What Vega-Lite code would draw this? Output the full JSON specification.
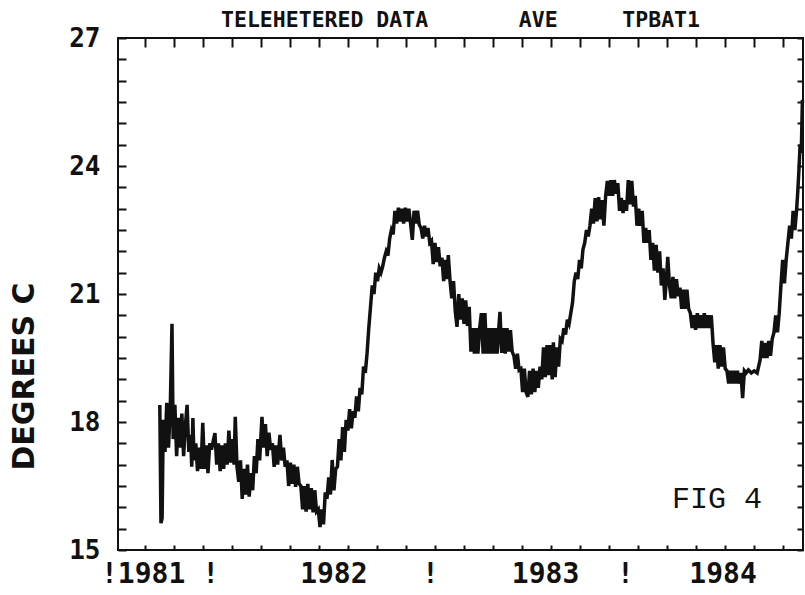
{
"$schema": "https://vega.github.io/schema/vega-lite/v6.json",
"width": 685, "height": 512,
"autosize": {"type": "none"},
"padding": {"left": 118, "top": 38, "right": 2, "bottom": 45},
"background": "white",
"config": {"view": {"stroke": "#111", "strokeWidth": 2}, "axis": {"grid": false, "domain": false, "tickColor": "#111", "tickWidth": 2, "labelColor": "#111", "titleColor": "#111"}},
"title": {"text": "TELEHETERED DATA\u00a0\u00a0\u00a0\u00a0\u00a0\u00a0\u00a0AVE\u00a0\u00a0\u00a0\u00a0\u00a0TPBAT1", "orient": "top", "frame": "group", "font": "DejaVu Sans Mono", "fontSize": 21.5, "fontWeight": "bold", "color": "#111", "anchor": "middle", "baseline": "alphabetic", "offset": -23},
"resolve": {"axis": {"x": "independent", "y": "independent"}},
"layer": [
{"data": {"values": [
{"day":76,"temp":18.40},{"day":78,"temp":15.63},{"day":80,"temp":15.75},{"day":82,"temp":18.05},{"day":85,"temp":17.30},{"day":88,"temp":18.45},{"day":91,"temp":17.40},{"day":94,"temp":18.30},{"day":97,"temp":20.30},{"day":99,"temp":17.60},{"day":102,"temp":18.40},{"day":105,"temp":17.20},{"day":108,"temp":18.10},{"day":111,"temp":17.40},{"day":114,"temp":18.20},{"day":117,"temp":17.20},{"day":120,"temp":17.90},{"day":123,"temp":18.40},{"day":126,"temp":17.30},{"day":129,"temp":17.70},{"day":131,"temp":16.95},{"day":133,"temp":18.09},{"day":135,"temp":17.10},{"day":138,"temp":17.50},{"day":141,"temp":16.85},{"day":144,"temp":17.40},{"day":147,"temp":16.90},{"day":150,"temp":17.98},{"day":153,"temp":16.90},{"day":156,"temp":17.45},{"day":159,"temp":16.80},{"day":162,"temp":17.50},{"day":165,"temp":17.35},{"day":168,"temp":17.55},{"day":171,"temp":17.74},{"day":174,"temp":17.00},{"day":177,"temp":17.50},{"day":180,"temp":16.85},{"day":183,"temp":17.45},{"day":186,"temp":16.90},{"day":189,"temp":17.50},{"day":192,"temp":17.00},{"day":195,"temp":17.80},{"day":198,"temp":17.05},{"day":201,"temp":17.60},{"day":204,"temp":17.00},{"day":206,"temp":18.12},{"day":209,"temp":16.95},{"day":212,"temp":16.60},{"day":215,"temp":17.10},{"day":218,"temp":16.20},{"day":221,"temp":16.90},{"day":224,"temp":16.30},{"day":227,"temp":17.00},{"day":230,"temp":16.25},{"day":233,"temp":16.80},{"day":236,"temp":16.40},{"day":239,"temp":17.20},{"day":242,"temp":16.80},{"day":245,"temp":17.60},{"day":248,"temp":17.10},{"day":252,"temp":18.12},{"day":255,"temp":17.40},{"day":258,"temp":17.95},{"day":261,"temp":17.20},{"day":264,"temp":17.75},{"day":267,"temp":17.35},{"day":270,"temp":17.50},{"day":273,"temp":16.95},{"day":276,"temp":17.45},{"day":279,"temp":17.00},{"day":283,"temp":17.70},{"day":286,"temp":17.10},{"day":289,"temp":17.40},{"day":292,"temp":16.95},{"day":295,"temp":17.10},{"day":298,"temp":16.50},{"day":301,"temp":17.05},{"day":304,"temp":16.55},{"day":307,"temp":17.00},{"day":310,"temp":16.48},{"day":313,"temp":16.95},{"day":316,"temp":16.55},{"day":319,"temp":16.50},{"day":322,"temp":15.95},{"day":325,"temp":16.50},{"day":328,"temp":15.90},{"day":331,"temp":16.55},{"day":334,"temp":15.95},{"day":337,"temp":16.45},{"day":340,"temp":15.88},{"day":343,"temp":16.40},{"day":346,"temp":15.90},{"day":349,"temp":15.95},{"day":352,"temp":15.54},{"day":355,"temp":15.95},{"day":358,"temp":15.60},{"day":361,"temp":16.35},{"day":364,"temp":16.20},{"day":367,"temp":16.70},{"day":370,"temp":16.30},{"day":373,"temp":17.11},{"day":376,"temp":16.40},{"day":379,"temp":16.90},{"day":382,"temp":16.95},{"day":385,"temp":17.60},{"day":388,"temp":17.10},{"day":391,"temp":17.88},{"day":394,"temp":17.30},{"day":397,"temp":18.05},{"day":400,"temp":17.80},{"day":403,"temp":18.30},{"day":406,"temp":17.85},{"day":409,"temp":18.25},{"day":412,"temp":18.10},{"day":415,"temp":18.60},{"day":418,"temp":18.25},{"day":421,"temp":18.80},{"day":424,"temp":18.65},{"day":427,"temp":19.30},{"day":430,"temp":19.15},{"day":433,"temp":19.60},{"day":436,"temp":20.20},{"day":439,"temp":20.70},{"day":442,"temp":21.20},{"day":445,"temp":21.00},{"day":448,"temp":21.50},{"day":451,"temp":21.30},{"day":454,"temp":21.60},{"day":457,"temp":21.50},{"day":460,"temp":21.65},{"day":463,"temp":21.85},{"day":466,"temp":22.00},{"day":469,"temp":21.90},{"day":472,"temp":22.30},{"day":475,"temp":22.50},{"day":478,"temp":22.40},{"day":481,"temp":22.95},{"day":484,"temp":22.65},{"day":487,"temp":23.02},{"day":490,"temp":22.70},{"day":493,"temp":23.00},{"day":496,"temp":22.65},{"day":499,"temp":23.02},{"day":502,"temp":22.70},{"day":505,"temp":23.00},{"day":508,"temp":22.65},{"day":511,"temp":22.27},{"day":514,"temp":22.95},{"day":517,"temp":22.65},{"day":520,"temp":22.95},{"day":523,"temp":22.62},{"day":526,"temp":22.55},{"day":529,"temp":22.30},{"day":532,"temp":22.60},{"day":535,"temp":22.35},{"day":538,"temp":22.55},{"day":541,"temp":22.20},{"day":544,"temp":22.25},{"day":547,"temp":21.70},{"day":550,"temp":22.20},{"day":553,"temp":21.75},{"day":556,"temp":22.10},{"day":559,"temp":21.65},{"day":562,"temp":21.85},{"day":565,"temp":21.30},{"day":568,"temp":21.80},{"day":571,"temp":21.35},{"day":573,"temp":21.91},{"day":576,"temp":21.30},{"day":579,"temp":20.90},{"day":582,"temp":21.30},{"day":585,"temp":20.60},{"day":588,"temp":20.23},{"day":591,"temp":21.00},{"day":594,"temp":20.40},{"day":597,"temp":20.90},{"day":600,"temp":20.30},{"day":603,"temp":20.85},{"day":606,"temp":20.25},{"day":609,"temp":20.70},{"day":612,"temp":19.65},{"day":615,"temp":20.20},{"day":618,"temp":19.60},{"day":621,"temp":20.20},{"day":624,"temp":19.60},{"day":627,"temp":20.20},{"day":630,"temp":20.55},{"day":633,"temp":19.60},{"day":636,"temp":20.55},{"day":639,"temp":19.60},{"day":642,"temp":20.20},{"day":645,"temp":19.60},{"day":648,"temp":20.20},{"day":651,"temp":19.60},{"day":654,"temp":20.20},{"day":657,"temp":19.60},{"day":660,"temp":20.20},{"day":662,"temp":20.58},{"day":665,"temp":19.62},{"day":668,"temp":20.20},{"day":671,"temp":19.60},{"day":674,"temp":20.20},{"day":677,"temp":19.65},{"day":680,"temp":20.15},{"day":683,"temp":19.65},{"day":686,"temp":19.55},{"day":689,"temp":19.25},{"day":692,"temp":19.60},{"day":695,"temp":19.22},{"day":698,"temp":19.25},{"day":701,"temp":18.70},{"day":704,"temp":19.25},{"day":707,"temp":18.70},{"day":710,"temp":18.59},{"day":713,"temp":19.20},{"day":716,"temp":18.65},{"day":719,"temp":19.25},{"day":722,"temp":18.70},{"day":725,"temp":19.20},{"day":728,"temp":18.80},{"day":731,"temp":19.30},{"day":734,"temp":19.00},{"day":737,"temp":19.75},{"day":740,"temp":19.05},{"day":743,"temp":19.80},{"day":746,"temp":19.10},{"day":749,"temp":19.80},{"day":752,"temp":19.00},{"day":754,"temp":19.87},{"day":757,"temp":19.05},{"day":760,"temp":19.75},{"day":763,"temp":19.30},{"day":766,"temp":19.95},{"day":769,"temp":19.90},{"day":772,"temp":20.20},{"day":775,"temp":20.05},{"day":778,"temp":20.40},{"day":781,"temp":20.30},{"day":784,"temp":20.55},{"day":787,"temp":20.80},{"day":790,"temp":21.30},{"day":793,"temp":21.50},{"day":796,"temp":21.35},{"day":799,"temp":21.80},{"day":802,"temp":21.60},{"day":805,"temp":22.05},{"day":808,"temp":22.20},{"day":811,"temp":22.50},{"day":814,"temp":22.35},{"day":817,"temp":22.60},{"day":820,"temp":23.00},{"day":823,"temp":22.65},{"day":826,"temp":23.25},{"day":829,"temp":22.70},{"day":832,"temp":23.27},{"day":835,"temp":22.75},{"day":838,"temp":23.20},{"day":841,"temp":22.60},{"day":844,"temp":23.30},{"day":847,"temp":23.65},{"day":850,"temp":23.30},{"day":853,"temp":23.67},{"day":856,"temp":23.30},{"day":859,"temp":23.67},{"day":862,"temp":23.35},{"day":865,"temp":23.60},{"day":868,"temp":22.95},{"day":871,"temp":23.25},{"day":874,"temp":22.90},{"day":877,"temp":23.20},{"day":880,"temp":22.95},{"day":883,"temp":23.67},{"day":886,"temp":23.10},{"day":889,"temp":23.65},{"day":892,"temp":23.05},{"day":895,"temp":23.30},{"day":898,"temp":22.60},{"day":901,"temp":23.00},{"day":904,"temp":22.60},{"day":907,"temp":22.95},{"day":910,"temp":22.20},{"day":913,"temp":22.55},{"day":916,"temp":22.20},{"day":919,"temp":22.50},{"day":922,"temp":21.80},{"day":925,"temp":22.20},{"day":928,"temp":21.55},{"day":931,"temp":22.15},{"day":934,"temp":21.50},{"day":937,"temp":22.00},{"day":940,"temp":21.20},{"day":943,"temp":21.60},{"day":946,"temp":20.86},{"day":949,"temp":21.40},{"day":951,"temp":21.87},{"day":954,"temp":21.20},{"day":957,"temp":20.90},{"day":960,"temp":21.40},{"day":963,"temp":20.90},{"day":966,"temp":21.35},{"day":969,"temp":20.95},{"day":972,"temp":21.15},{"day":975,"temp":20.65},{"day":978,"temp":21.10},{"day":981,"temp":20.65},{"day":984,"temp":21.10},{"day":987,"temp":20.65},{"day":990,"temp":20.55},{"day":993,"temp":20.20},{"day":996,"temp":20.50},{"day":999,"temp":20.16},{"day":1002,"temp":20.55},{"day":1005,"temp":20.20},{"day":1008,"temp":20.50},{"day":1011,"temp":20.20},{"day":1014,"temp":20.55},{"day":1017,"temp":20.20},{"day":1020,"temp":20.50},{"day":1023,"temp":20.20},{"day":1026,"temp":20.50},{"day":1029,"temp":19.85},{"day":1032,"temp":19.40},{"day":1035,"temp":19.80},{"day":1038,"temp":19.25},{"day":1041,"temp":19.80},{"day":1044,"temp":19.30},{"day":1047,"temp":19.75},{"day":1050,"temp":19.25},{"day":1053,"temp":19.20},{"day":1056,"temp":18.90},{"day":1059,"temp":19.20},{"day":1062,"temp":18.90},{"day":1065,"temp":19.20},{"day":1068,"temp":18.90},{"day":1071,"temp":19.20},{"day":1074,"temp":18.90},{"day":1077,"temp":19.15},{"day":1080,"temp":18.56},{"day":1083,"temp":19.20},{"day":1086,"temp":19.15},{"day":1090,"temp":19.22},{"day":1095,"temp":19.15},{"day":1100,"temp":19.20},{"day":1105,"temp":19.15},{"day":1110,"temp":19.45},{"day":1113,"temp":19.90},{"day":1116,"temp":19.50},{"day":1119,"temp":19.85},{"day":1122,"temp":19.50},{"day":1125,"temp":19.90},{"day":1128,"temp":19.55},{"day":1131,"temp":19.95},{"day":1134,"temp":20.10},{"day":1137,"temp":20.50},{"day":1140,"temp":20.10},{"day":1143,"temp":20.55},{"day":1146,"temp":21.20},{"day":1149,"temp":21.80},{"day":1152,"temp":21.25},{"day":1155,"temp":21.80},{"day":1158,"temp":22.20},{"day":1161,"temp":22.60},{"day":1164,"temp":22.30},{"day":1167,"temp":22.95},{"day":1170,"temp":22.50},{"day":1173,"temp":22.97},{"day":1175,"temp":23.40},{"day":1177,"temp":23.90},{"day":1179,"temp":24.50},{"day":1181,"temp":24.30},{"day":1183,"temp":25.55}
]},
"mark": {"type": "line", "color": "#111", "strokeWidth": 3.5},
"encoding": {
"x": {"field": "day", "type": "quantitative", "scale": {"domain": [4, 1184], "nice": false, "zero": false},
"axis": {"orient": "bottom", "values": [50,100,150,200,250,300,350,400,450,500,550,600,650,700,750,800,850,900,950,1000,1050,1100,1150], "labels": false, "tickSize": -5, "title": null}},
"y": {"field": "temp", "type": "quantitative", "scale": {"domain": [15, 27], "nice": false, "zero": false},
"axis": {"orient": "left", "values": [15,15.5,16,16.5,17,17.5,18,18.5,19,19.5,20,20.5,21,21.5,22,22.5,23,23.5,24,24.5,25,25.5,26,26.5,27], "tickSize": -8, "format": ".0f", "labelExpr": "datum.value % 3 == 0 ? datum.label : ''", "labelFont": "DejaVu Sans Mono", "labelFontSize": 26, "labelFontWeight": "bold", "labelPadding": 26, "labelFlush": false, "labelOverlap": false, "labelBaseline": "middle",
"title": "DEGREES C", "titleFont": "DejaVu Sans", "titleFontSize": 30, "titleFontWeight": "bold", "titleX": -94, "titleY": 338, "titleAngle": -90, "titleAlign": "center", "titleBaseline": "middle"}}
}},
{"data": {"values": [{"day": 1036, "temp": 16.2, "label": "FIG 4"}]},
"mark": {"type": "text", "font": "Liberation Mono", "fontSize": 30, "color": "#111", "align": "center", "baseline": "middle"},
"encoding": {
"text": {"field": "label"},
"x": {"field": "day", "type": "quantitative", "scale": {"domain": [4, 1184], "nice": false, "zero": false},
"axis": {"orient": "top", "values": [50,100,150,200,250,300,350,400,450,500,550,600,650,700,750,800,850,900,950,1000,1050,1100,1150], "labels": false, "tickSize": -9, "title": null}},
"y": {"field": "temp", "type": "quantitative", "scale": {"domain": [15, 27], "nice": false, "zero": false},
"axis": {"orient": "right", "values": [15,15.5,16,16.5,17,17.5,18,18.5,19,19.5,20,20.5,21,21.5,22,22.5,23,23.5,24,24.5,25,25.5,26,26.5,27], "labels": false, "tickSize": -6, "title": null}}
}},
{"data": {"values": [{"day": 75.5, "label": "!1981 !"}, {"day": 375, "label": "1982"}, {"day": 541.5, "label": "!"}, {"day": 739.6, "label": "1983"}, {"day": 877.4, "label": "!"}, {"day": 1045.4, "label": "1984"}]},
"mark": {"type": "point", "opacity": 0},
"encoding": {
"x": {"field": "day", "type": "quantitative", "scale": {"domain": [4, 1184], "nice": false, "zero": false},
"axis": {"orient": "bottom", "values": [75.5, 375, 541.5, 739.6, 877.4, 1045.4], "ticks": false, "labelExpr": "datum.value == 75.5 ? '!1981\u00a0!' : datum.value == 375 ? '1982' : datum.value == 739.6 ? '1983' : datum.value == 1045.4 ? '1984' : '!'", "labelFont": "DejaVu Sans Mono", "labelFontSize": 28, "labelFontWeight": "bold", "labelPadding": 24, "labelBaseline": "middle", "labelFlush": false, "labelOverlap": false, "title": null}},
"y": {"value": 500}
}}
]
}
